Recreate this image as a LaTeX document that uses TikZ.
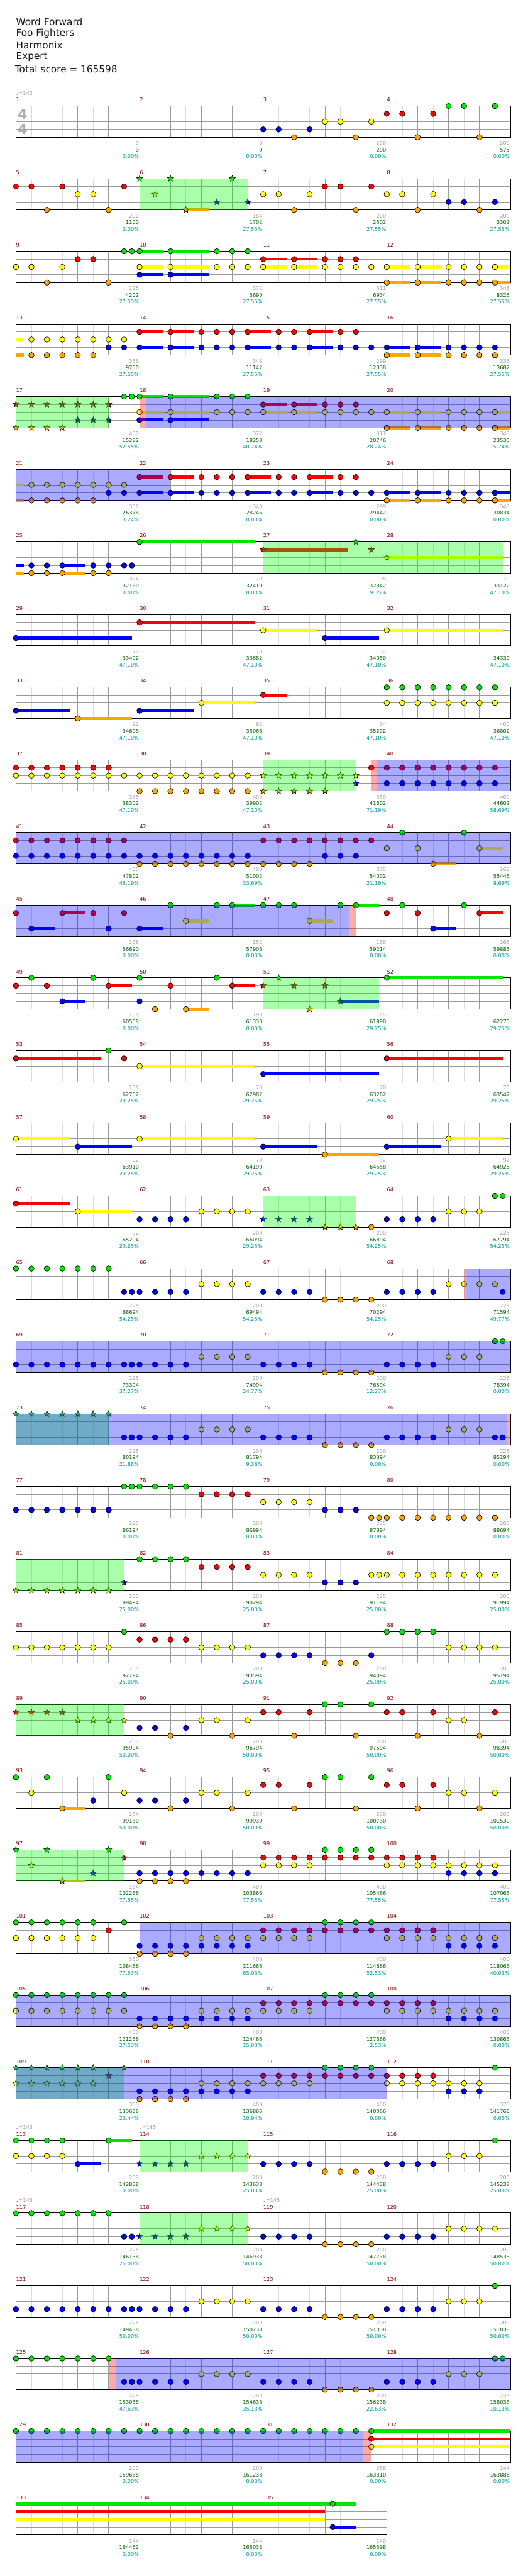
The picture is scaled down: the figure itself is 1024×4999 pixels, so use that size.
\documentclass[tikz,border=0pt]{standalone}
\usepackage{fontspec}
\setmainfont{DejaVu Sans}
\usepackage{tikz}
\usetikzlibrary{shapes.geometric, backgrounds}

\definecolor{lane0}{RGB}{0,232,0}
\definecolor{lane1}{RGB}{255,0,0}
\definecolor{lane2}{RGB}{255,255,0}
\definecolor{lane3}{RGB}{0,0,255}
\definecolor{lane4}{RGB}{255,165,0}
\definecolor{spg}{RGB}{0,255,0}
\definecolor{act}{RGB}{0,0,255}
\definecolor{glowc}{RGB}{255,255,212}
\definecolor{mnumc}{RGB}{140,0,0}
\definecolor{basec}{RGB}{160,160,160}
\definecolor{scorec}{RGB}{0,100,0}
\definecolor{pctc}{RGB}{0,155,155}
\definecolor{beatc}{RGB}{155,155,155}
\definecolor{halfc}{RGB}{220,220,220}

% one row of measures: row index, number of measures
\newcommand\mrow[2]{%
  \pgfmathsetmacro\rt{205.7+141*#1}%
  \pgfmathtruncatemacro\rn{#1}%
  \pgfmathsetmacro\rw{240*#2}%
  \pgfmathtruncatemacro\nh{8*#2-1}%
  \pgfmathtruncatemacro\nb{4*#2-1}%
  \pgfmathtruncatemacro\nm{#2-1}%
  \draw[halfl] \foreach \k in {1,...,\nh} {({31+30*\k},\rt) -- ++(0,60.6)};
  \draw[beatl] \foreach \k in {1,...,\nb} {({31+60*\k},\rt) -- ++(0,60.6)};
  \draw[beatl] \foreach \l in {1,2,3} {(31,{\rt+15.15*\l}) -- ++(\rw,0)};
  \draw[barl] \foreach \k in {1,...,\nm} {({31+240*\k},\rt) -- ++(0,60.6)};
  \draw[barl] (31,\rt) rectangle ++(\rw,60.6);
  \foreach \i in {1,...,#2}{%
    \pgfmathtruncatemacro\mn{4*#1+\i}%
    \node[mnum] (m\mn) at ({31+240*(\i-1)},{\rt-12}) {\mn};
  }%
}
\newcommand\nts[2]{\foreach \pp in {#2}{\draw[note, fill=lane#1] ({31+15*\pp},{\rt+15.15*#1}) circle[radius=4pt];}}
\newcommand\strs[2]{\foreach \pp in {#2}{\node[starnote, fill=lane#1] (st\rn-#1-\pp) at ({31+15*\pp},{\rt+15.15*#1}) {};}}
\newcommand\hld[3]{\fill[lane#1] ({31+15*#2},{\rt+15.15*#1-3}) rectangle ({31+15*#3},{\rt+15.15*#1+3});}
\newcommand\ovr[3]{\fill[#1, opacity=.333] ({31+15*#2},\rt) rectangle ({31+15*#3},{\rt+60.6});}
\newcommand\glw[2]{\begin{pgfonlayer}{background}\fill[glowc] ({31+15*#1},{\rt-10}) rectangle ({31+15*#2},{\rt+70.6});\end{pgfonlayer}}
\newcommand\tmpo[2]{\node[tempo] (tp\rn-#1) at ({31+240*#1},{\rt-25}) {♩=#2};}
\newcommand\lbls[1]{%
  \foreach \a/\b/\c [count=\i] in {#1}{%
    \node[lab, text=basec] (b\rn-\i) at ({30+240*\i},{\rt+72}) {\a};
    \node[lab, text=scorec] (s\rn-\i) at ({30+240*\i},{\rt+85}) {\b};
    \node[lab, text=pctc] (p\rn-\i) at ({30+240*\i},{\rt+98}) {\c\%};
  }%
}

\newcommand\riffA{%
  \hld{0}{16}{19}\hld{2}{16}{19}\hld{3}{16}{19}\hld{0}{20}{25}\hld{2}{20}{25}\hld{3}{20}{25}
  \hld{1}{32}{35}\hld{2}{32}{35}\hld{1}{36}{39}\hld{2}{36}{39}
  \hld{2}{48}{51}\hld{4}{48}{51}\hld{2}{52}{55}\hld{4}{52}{55}\hld{2}{62}{64}\hld{4}{62}{64}
  \nts{0}{16,20,26,28,30}
  \nts{2}{16,20,26,28,30,32,36,40,42,44,46,48,52,56,58,60,62}
  \nts{3}{16,20}
  \nts{1}{32,36,40,42,44}
  \nts{4}{48,52,56,58,60,62}%
}
\newcommand\riffB{%
  \hld{2}{0}{1}\hld{4}{0}{1}
  \hld{1}{16}{19}\hld{3}{16}{19}\hld{1}{20}{23}\hld{3}{20}{23}\hld{1}{30}{33}\hld{3}{30}{33}\hld{1}{38}{41}\hld{3}{38}{41}
  \hld{3}{48}{51}\hld{4}{48}{51}\hld{3}{52}{55}\hld{4}{52}{55}
  \nts{2}{2,4,...,14}
  \nts{4}{2,4,...,10}
  \nts{4}{48,52,56,58,60,62}
  \nts{3}{12,14}
  \nts{1}{16,20,24,26,28,30,34,36,38,42,44}
  \nts{3}{16,20,24,26,28,30,34,36,38,42,44,46,48,52,56,58,60,62}%
}
\newcommand\riffC{%
  \nts{3}{16,18,...,30}\nts{4}{16,18,...,22}\nts{2}{24,26,...,30}
  \nts{1}{32,34,...,46}\nts{2}{32,34,...,38}\nts{0}{40,42,...,46}%
}
\newcommand\riffD{%
  \nts{3}{16,18,...,22}\nts{2}{24,26,...,30}\nts{3}{32,34,...,38}\nts{4}{40,42,...,46}\nts{3}{48,50,...,54}%
}

\begin{document}
\begin{tikzpicture}[x=0.75pt, y=-0.75pt,
    halfl/.style={draw=halfc, line width=0.75pt},
    beatl/.style={draw=beatc, line width=0.75pt},
    barl/.style={draw=black, line width=0.9pt},
    note/.style={draw=black, line width=0.6pt},
    starnote/.style={star, star points=5, star point ratio=2.3, draw=black, line width=0.5pt, minimum size=9.5pt, inner sep=0pt},
    mnum/.style={anchor=west, inner sep=0pt, text=mnumc, font=\fontsize{7.5}{8}\selectfont},
    tempo/.style={anchor=west, inner sep=0pt, text=basec, font=\fontsize{7.5}{8}\selectfont},
    lab/.style={anchor=east, inner sep=0pt, font=\fontsize{7.5}{8}\selectfont},
    head/.style={anchor=west, inner sep=0pt, text=black!90, font=\fontsize{14}{16}\selectfont},
    tsig/.style={inner sep=0pt, text=black!33, font=\fontsize{20}{20}\bfseries},
]
\useasboundingbox (0,0) rectangle (1024,4999);
\fill[white] (0,0) rectangle (1024,4999);

\node[head] (song) at (31,42) {Word Forward};
\node[head] (artist) at (31,65) {Foo Fighters};
\node[head] (charter) at (31,88) {Harmonix};
\node[head] (diff) at (31,111) {Expert};
\node[head] (total) at (29,134) {Total score = 165598};

\mrow{0}{4}
\tmpo{0}{142}
\node[tsig] (ts1) at (44,221) {4};
\node[tsig] (ts2) at (44,251) {4};
\nts{3}{32,34,38}\nts{4}{36,44,52,60}\nts{2}{40,42,46}\nts{1}{48,50,54}\nts{0}{56,58,62}
\lbls{0/0/0.00, 0/0/0.00, 200/200/0.00, 200/575/0.00}

\mrow{1}{4}
\hld{4}{22}{25}
\nts{1}{0,2,6,14,40,42,46}\nts{4}{4,12,36,44,52,60}\nts{2}{8,10,32,34,38,48,50,54}\nts{3}{56,58,62}
\strs{0}{16,20,28}\strs{2}{18}\strs{4}{22}\strs{3}{26,30}
\ovr{spg}{16}{30}
\lbls{200/1100/0.00, 184/1702/27.55, 200/2502/27.55, 200/3302/27.55}

\mrow{2}{4}
\nts{2}{0,2,6}\nts{4}{4,12}\nts{1}{8,10}\nts{0}{14,15}
\riffA
\lbls{225/4202/27.55, 372/5690/27.55, 311/6934/27.55, 348/8326/27.55}

\mrow{3}{4}
\riffB
\lbls{356/9750/27.55, 348/11142/27.55, 299/12338/27.55, 336/13682/27.55}

\mrow{4}{4}
\strs{1}{0,2,...,12}\strs{3}{8,10,12}\strs{4}{0,2,4,6}
\nts{0}{14,15}
\riffA
\ovr{spg}{0}{12}\ovr{red}{16}{16.8}\ovr{act}{16.8}{64}
\lbls{400/15282/52.55, 372/18258/40.74, 311/20746/28.24, 348/23530/15.74}

\mrow{5}{4}
\riffB
\hld{3}{62}{64}\hld{4}{62}{64}\nts{3}{62}\nts{4}{62}
\ovr{act}{0}{20}
\lbls{356/26378/3.24, 348/28246/0.00, 299/29442/0.00, 348/30834/0.00}

\mrow{6}{4}
\hld{3}{0}{1}\hld{4}{0}{1}\hld{3}{6}{9}\hld{4}{6}{9}
\nts{3}{2,4,6,10,12,14,15}\nts{4}{2,4,6,10,12}
\hld{0}{16}{31}\nts{0}{16}
\hld{1}{32}{43}\strs{1}{32,46}\strs{0}{44}
\hld{2}{48}{63}\strs{2}{48}
\ovr{spg}{32}{63}
\lbls{324/32130/0.00, 70/32410/0.00, 108/32842/9.35, 70/33122/47.10}

\mrow{7}{4}
\hld{3}{0}{15}\nts{3}{0}\hld{1}{16}{31}\nts{1}{16}\hld{2}{32}{39}\nts{2}{32}\hld{3}{40}{47}\nts{3}{40}\hld{2}{48}{63}\nts{2}{48}
\lbls{70/33402/47.10, 70/33682/47.10, 92/34050/47.10, 70/34330/47.10}

\mrow{8}{4}
\hld{3}{0}{7}\nts{3}{0}\hld{4}{8}{15}\nts{4}{8}\hld{3}{16}{23}\nts{3}{16}\hld{2}{24}{31}\nts{2}{24}\hld{1}{32}{35}\nts{1}{32}
\nts{0}{48,50,...,62}\nts{2}{48,50,...,62}
\lbls{92/34698/47.10, 92/35066/47.10, 34/35202/47.10, 400/36802/47.10}

\mrow{9}{4}
\glw{32}{44}
\nts{1}{0,2,...,12}\nts{2}{0,2,...,30}\nts{4}{16,18,...,30}
\strs{2}{32,34,...,44}\strs{4}{32,34,...,40}\strs{3}{44}
\nts{1}{46}\nts{1}{48,50,...,62}\nts{3}{48,50,...,62}
\ovr{spg}{32}{44}\ovr{red}{46}{46.7}\ovr{act}{46.7}{64}
\lbls{375/38302/47.10, 400/39902/47.10, 350/41602/71.19, 400/44602/58.69}

\mrow{10}{4}
\hld{2}{60}{63}\hld{4}{54}{57}
\nts{1}{0,2,...,14}\nts{3}{0,2,...,30}\nts{4}{16,18,...,38}\nts{1}{32,34,...,46}\nts{3}{40,42,44}
\nts{0}{50,58}\nts{2}{48,52,60}\nts{4}{54}
\ovr{act}{0}{64}
\lbls{400/47802/46.19, 400/51002/33.69, 375/54002/21.19, 168/55446/8.69}

\mrow{11}{4}
\hld{3}{2}{5}\hld{1}{6}{9}\hld{3}{16}{19}\hld{2}{22}{25}\hld{0}{28}{31}\hld{2}{38}{41}\hld{0}{44}{47}\hld{3}{54}{57}\hld{1}{60}{63}
\nts{1}{0,6,10,14}\nts{3}{2,12,16}\nts{0}{20,26,28}\nts{2}{22}
\nts{0}{32,34,36,42,44}\nts{2}{38}
\nts{1}{48,52,60}\nts{0}{50,58}\nts{3}{54}
\ovr{act}{0}{43.06}\ovr{red}{43.06}{44}
\lbls{168/56690/0.00, 152/57906/0.00, 168/59214/0.00, 168/59886/0.00}

\mrow{12}{4}
\hld{1}{12}{15}\hld{1}{28}{31}\hld{3}{6}{9}\hld{4}{22}{25}\hld{3}{42}{47}\hld{0}{48}{63}
\nts{0}{2,10,16,26,48}\nts{1}{0,4,12,20,28}\nts{3}{6,16}\nts{4}{18,22}
\strs{0}{34}\strs{1}{32,36,40}\strs{4}{38}\strs{3}{42}
\ovr{spg}{32}{47}
\lbls{168/60558/0.00, 193/61330/0.00, 165/61990/29.25, 70/62270/29.25}

\mrow{13}{4}
\hld{1}{0}{11}\hld{2}{16}{31}\hld{3}{32}{47}\hld{1}{48}{63}
\nts{1}{0,14,48}\nts{0}{12}\nts{2}{16}\nts{3}{32}
\lbls{108/62702/29.25, 70/62982/29.25, 70/63262/29.25, 70/63542/29.25}

\mrow{14}{4}
\hld{2}{0}{7}\hld{3}{8}{15}\hld{2}{16}{31}\hld{3}{32}{39}\hld{4}{40}{47}\hld{3}{48}{55}\hld{2}{56}{63}
\nts{2}{0,16,56}\nts{3}{8,32,48}\nts{4}{40}
\lbls{92/63910/29.25, 70/64190/29.25, 92/64558/29.25, 92/64926/29.25}

\mrow{15}{4}
\glw{32}{44}
\hld{1}{0}{7}\hld{2}{8}{15}
\nts{1}{0}\nts{2}{8}\nts{3}{16,18,20,22}\nts{2}{24,26,28,30}
\strs{3}{32,34,36,38}\strs{4}{40,42,44}
\nts{4}{46}\nts{3}{48,50,52,54}\nts{2}{56,58,60}\nts{0}{62,63}
\ovr{spg}{32}{44}
\lbls{92/65294/29.25, 200/66094/29.25, 200/66894/54.25, 225/67794/54.25}

\mrow{16}{4}
\nts{0}{0,2,...,12}\nts{3}{14,15}
\riffD
\nts{2}{56,58,60,62}\nts{3}{63}
\ovr{red}{58}{58.3}\ovr{act}{58.3}{64}
\lbls{225/68694/54.25, 200/69494/54.25, 200/70294/54.25, 225/71594/49.77}

\mrow{17}{4}
\nts{3}{0,2,...,14}\nts{3}{15}
\riffD
\nts{2}{56,58,60}\nts{0}{62,63}
\ovr{act}{0}{64}
\lbls{225/73394/37.27, 200/74994/24.77, 200/76594/12.27, 225/78394/0.00}

\mrow{18}{4}
\strs{0}{0,2,...,12}\nts{3}{14,15}
\riffD
\nts{2}{56,58,60}\nts{3}{62,63}
\ovr{spg}{0}{12}\ovr{act}{0}{63.56}\ovr{red}{63.56}{64}
\lbls{225/80194/21.88, 200/81794/9.38, 200/83394/0.00, 225/85194/0.00}

\mrow{19}{4}
\nts{3}{0,2,...,12}\nts{0}{14,15}\nts{0}{16,18,...,22}\nts{1}{24,26,...,30}\nts{2}{32,34,...,38}\nts{3}{40,42,44}
\nts{4}{46,47}\nts{4}{48,50,...,62}
\lbls{225/86194/0.00, 200/86994/0.00, 225/87894/0.00, 200/88694/0.00}

\mrow{20}{4}
\strs{4}{0,2,...,12}\strs{3}{14}
\nts{0}{16,18,...,22}\nts{1}{24,26,...,30}\nts{2}{32,34,...,38}\nts{3}{40,42,44}
\nts{2}{46,47}\nts{2}{48,50,...,62}
\ovr{spg}{0}{14}
\lbls{200/89494/25.00, 200/90294/25.00, 225/91194/25.00, 200/91994/25.00}

\mrow{21}{4}
\nts{2}{0,2,...,12}\nts{0}{14}\nts{1}{16,18,...,22}\nts{2}{24,26,...,30}\nts{3}{32,34,...,38}\nts{4}{40,42,44}\nts{3}{46}
\nts{0}{48,50,...,54}\nts{2}{56,58,...,62}
\lbls{200/92794/25.00, 200/93594/25.00, 200/94394/25.00, 200/95194/25.00}

\mrow{22}{4}
\glw{0}{14}
\strs{1}{0,2,4,6}\strs{2}{8,10,12,14}
\nts{3}{16,18,22}\nts{4}{20,28,36,44,52,60}\nts{2}{24,26,30,56,58}\nts{1}{32,34,38,48,50,54,62}\nts{0}{40,42,46}
\ovr{spg}{0}{14}
\lbls{200/95994/50.00, 200/96794/50.00, 200/97594/50.00, 200/98394/50.00}

\mrow{23}{4}
\hld{4}{6}{9}
\nts{0}{0,4,12}\nts{2}{2,14}\nts{4}{6}\nts{3}{10}
\nts{3}{16,18,22}\nts{4}{20,28,36,44,52,60}\nts{2}{24,26,30,56,58,62}\nts{1}{32,34,38,48,50,54}\nts{0}{40,42,46}
\lbls{184/99130/50.00, 200/99930/50.00, 200/100730/50.00, 200/101530/50.00}

\mrow{24}{4}
\hld{4}{6}{9}
\strs{0}{0,4,12}\strs{2}{2}\strs{4}{6}\strs{3}{10}\strs{1}{14}
\nts{3}{16,18,...,30}\nts{4}{16,18,...,22}
\nts{1}{32,34,...,46}\nts{2}{32,34,...,38}\nts{0}{40,42,...,46}
\nts{1}{48,50,...,54}\nts{2}{48,50,...,62}\nts{3}{56,58,...,62}
\ovr{spg}{0}{14}
\lbls{184/102266/77.55, 400/103866/77.55, 400/105466/77.55, 400/107066/77.55}

\mrow{25}{4}
\nts{0}{0,2,...,10}\nts{0}{14}\nts{1}{12}\nts{2}{0,2,...,10}
\riffC
\nts{1}{48,50,...,54}\nts{2}{48,50,...,62}\nts{3}{56,58,...,62}
\ovr{act}{16}{64}
\lbls{350/108466/77.53, 400/111666/65.03, 400/114866/52.53, 400/118066/40.03}

\mrow{26}{4}
\nts{0}{0,2,...,14}\nts{2}{0,2,...,14}
\riffC
\nts{1}{48,50,...,54}\nts{2}{48,50,...,62}\nts{3}{56,58,...,62}
\ovr{act}{0}{64}
\lbls{400/121266/27.53, 400/124466/15.03, 400/127666/2.53, 400/130866/0.00}

\mrow{27}{4}
\strs{0}{0,2,...,10}\strs{0}{14}\strs{1}{12}\strs{2}{0,2,...,10}
\riffC
\nts{1}{48,50,52,54}\nts{2}{48,50,...,60}\nts{3}{56,58,60}\nts{0}{62}
\ovr{spg}{0}{14}\ovr{act}{0}{48}
\lbls{350/133666/23.44, 400/136866/10.94, 400/140066/0.00, 375/141766/0.00}

\mrow{28}{4}
\tmpo{0}{143}\tmpo{1}{145}
\glw{16}{30}
\hld{3}{8}{11}\hld{0}{12}{15}
\nts{0}{0,2,4,6,12}\nts{2}{0,2,4,6}\nts{3}{8}
\strs{3}{16,18,...,22}\strs{2}{24,26,...,30}
\nts{3}{32,34,...,38}\nts{4}{40,42,...,46}\nts{3}{48,50,...,54}\nts{2}{56,58,60}\nts{0}{62}
\ovr{spg}{16}{30}
\lbls{268/142838/0.00, 200/143638/25.00, 200/144438/25.00, 200/145238/25.00}

\mrow{29}{4}
\tmpo{0}{145}\tmpo{2}{145}
\nts{0}{0,2,...,12}\nts{3}{14,15}
\strs{3}{16,18,...,22}\strs{2}{24,26,...,30}
\nts{3}{32,34,...,38}\nts{4}{40,42,...,46}\nts{3}{48,50,...,54}\nts{2}{56,58,...,62}
\ovr{spg}{16}{30}
\lbls{225/146138/25.00, 200/146938/50.00, 200/147738/50.00, 200/148538/50.00}

\mrow{30}{4}
\nts{3}{0,2,...,14}\nts{3}{15}
\riffD
\nts{2}{56,58,60}\nts{0}{62}
\lbls{225/149438/50.00, 200/150238/50.00, 200/151038/50.00, 200/151838/50.00}

\mrow{31}{4}
\nts{0}{0,2,...,12}\nts{3}{14,15}
\riffD
\nts{2}{56,58,60}\nts{0}{62,63}
\ovr{red}{12}{12.9}\ovr{act}{12.9}{64}
\lbls{225/153038/47.63, 200/154638/35.13, 200/156238/22.63, 225/158038/10.13}

\mrow{32}{4}
\hld{0}{46}{64}\hld{1}{46}{64}\hld{2}{46}{64}
\nts{0}{0,2,...,46}\nts{1}{46}\nts{2}{46}
\ovr{act}{0}{44.9}\ovr{red}{44.9}{46}
\lbls{200/159638/0.00, 200/161238/0.00, 268/163310/0.00, 144/163886/0.00}

\mrow{33}{3}
\hld{0}{0}{44}\hld{1}{0}{40}\hld{2}{0}{40}\hld{3}{41}{44}
\nts{0}{41}\nts{3}{41}
\lbls{144/164462/0.00, 144/165038/0.00, 140/165598/0.00}
\end{tikzpicture}
\end{document}
